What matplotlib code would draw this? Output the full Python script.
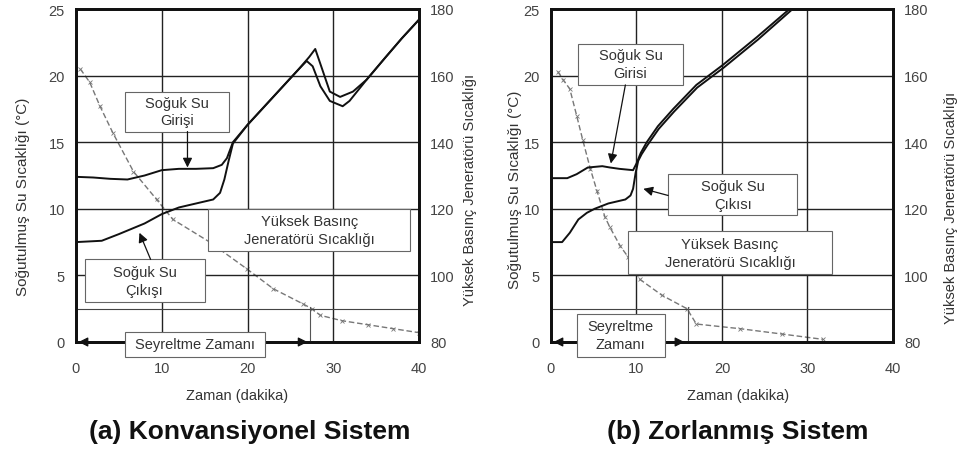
import matplotlib.pyplot as plt
from matplotlib.patches import Rectangle

plt.rcParams["font.family"] = ["Liberation Sans", "DejaVu Sans"]

# (a) Konvansiyonel Sistem
a_in_t = [0, 2, 4, 6, 8, 10, 12, 14, 16, 17, 17.6, 18.3, 20, 22, 24, 26, 26.9, 27.6, 28.5, 29.6, 31.1, 31.9, 33.9, 36, 38, 40]
a_in_v = [12.4, 12.35, 12.25, 12.2, 12.5, 12.9, 13.0, 13.0, 13.05, 13.3, 13.8, 15.0, 16.3, 17.7, 19.1, 20.5, 21.1, 20.7, 19.2, 18.1, 17.7, 18.1, 19.7, 21.3, 22.8, 24.2]
a_out_t = [0, 3, 5, 8, 10, 12, 14, 16, 16.8, 17.3, 17.8, 18.3, 20, 22, 24, 26, 27.2, 27.9, 28.7, 29.6, 30.8, 32.3, 33.9, 36, 38, 40]
a_out_v = [7.5, 7.6, 8.1, 8.9, 9.6, 10.1, 10.4, 10.7, 11.2, 12.2, 13.6, 14.9, 16.3, 17.7, 19.1, 20.5, 21.4, 22.0, 20.5, 18.8, 18.4, 18.8, 19.7, 21.3, 22.8, 24.2]
a_gen_t = [0.5, 1.6, 2.8, 4.3, 6.7, 9.4, 11.3, 15.6, 19.9, 23, 26.5, 27.5, 28.5, 31, 34, 37, 40]
a_gen_c = [162, 158, 150.8, 142.8, 131.2, 122.8, 116.8, 110, 102, 96, 91.4, 90, 88, 86.4, 85.2, 84, 82.8]

# (b) Zorlanmis Sistem
b_in_t = [0, 1.9, 3, 4.3, 6, 6.9, 8, 9.6, 10, 10.5, 11.2, 12.5, 14.3, 17, 20.1, 24.1, 27.9]
b_in_v = [12.3, 12.3, 12.6, 13.1, 13.2, 13.1, 13.0, 12.9, 13.4, 14.2, 15.0, 16.2, 17.5, 19.3, 20.8, 22.9, 25.0]
b_out_t = [0, 1.3, 2.2, 3.2, 4.2, 5.1, 6.7, 8.7, 9.3, 9.6, 9.9, 10.2, 10.6, 11.3, 12.6, 14.4, 17.1, 20.2, 24.2, 28.0]
b_out_v = [7.5, 7.5, 8.2, 9.2, 9.7, 10.0, 10.4, 10.7, 11.0, 11.5, 12.7, 13.6, 14.1, 14.8, 16.0, 17.3, 19.1, 20.6, 22.7, 24.85]
b_gen_t = [0.8, 1.4, 2.2, 3.0, 3.7, 4.6, 5.4, 6.3, 6.9, 8.1, 9.0, 10.4, 13, 15.9, 17, 22.1, 27, 31.8]
b_gen_c = [161.2, 158.8, 156, 148, 140.8, 132, 125.2, 117.6, 114.4, 108.8, 105.6, 98.8, 94, 90, 85.4, 84, 82.4, 80.8]

x_ticks = [0, 10, 20, 30, 40]
y_ticks = [0, 5, 10, 15, 20, 25]
r_ticks = [80, 100, 120, 140, 160, 180]

fig = plt.figure(figsize=(9.62, 4.52), dpi=100)
ax_a = fig.add_axes([76 / 962, 1 - 343 / 452, 343 / 962, 333 / 452])
ax_b = fig.add_axes([551 / 962, 1 - 343 / 452, 342 / 962, 333 / 452])

TXT = "#333333"


def box(ax, x0, y0, x1, y1, text, size=10.5):
    ax.add_patch(Rectangle((x0, y0), x1 - x0, y1 - y0, facecolor="white",
                           edgecolor="#666666", lw=0.8, zorder=3, clip_on=False))
    ax.text((x0 + x1) / 2, (y0 + y1) / 2, text, ha="center", va="center",
            fontsize=size, color=TXT, zorder=6, linespacing=1.35)


def arrow(ax, xy, xytext, style="-|>", z=7):
    ax.annotate("", xy=xy, xytext=xytext, zorder=z, annotation_clip=False,
                arrowprops=dict(arrowstyle=style, color="#111111", lw=0.9,
                                mutation_scale=14, shrinkA=0, shrinkB=0))


def setup(ax, gen_t, gen_c, dil_end):
    tw = ax.twinx()
    ax.set_zorder(tw.get_zorder() + 1)
    ax.patch.set_visible(False)
    tw.plot(gen_t, gen_c, color="#777777", lw=1.0, ls=(0, (4, 2)),
            marker="x", markersize=2.5, markeredgewidth=0.6)
    tw.set_ylim(80, 180)
    tw.set_yticks(r_ticks)
    tw.tick_params(length=0, pad=8, labelsize=10.5, labelcolor="#444444")
    ax.set_xlim(0, 40)
    ax.set_ylim(0, 25)
    ax.set_xticks(x_ticks)
    ax.set_yticks(y_ticks)
    ax.tick_params(length=0, labelsize=10.5, labelcolor="#444444")
    ax.tick_params(axis="x", pad=14)
    ax.tick_params(axis="y", pad=8)
    ax.set_axisbelow(True)
    ax.grid(color="#222222", lw=1.0)
    ax.axhline(2.5, color="#444444", lw=0.8, zorder=0.6)
    ax.plot([dil_end, dil_end], [0, 2.6], color="#555555", lw=0.8, zorder=0.7)
    for a in (ax, tw):
        for s in a.spines.values():
            s.set_linewidth(2.0)
            s.set_color("#111111")
    return tw


tw_a = setup(ax_a, a_gen_t, a_gen_c, 27.3)
tw_b = setup(ax_b, b_gen_t, b_gen_c, 16.0)

ax_a.plot(a_in_t, a_in_v, color="#111111", lw=1.4, zorder=4)
ax_a.plot(a_out_t, a_out_v, color="#111111", lw=1.4, zorder=4)
ax_b.plot(b_in_t, b_in_v, color="#111111", lw=1.4, zorder=4)
ax_b.plot(b_out_t, b_out_v, color="#111111", lw=1.4, zorder=4)

# annotation boxes (a)
box(ax_a, 5.7, 15.8, 17.9, 18.8, "Soğuk Su\nGirişi")
box(ax_a, 15.4, 6.8, 39.0, 10.0, "Yüksek Basınç\nJeneratörü Sıcaklığı")
box(ax_a, 1.0, 3.0, 15.0, 6.2, "Soğuk Su\nÇıkışı")
arrow(ax_a, (0.3, 0), (27.0, 0), "<|-|>", z=2.5)
box(ax_a, 5.7, -1.1, 22.0, 0.75, "Seyreltme Zamanı")
arrow(ax_a, (13.0, 13.1), (13.0, 15.8))
arrow(ax_a, (7.4, 8.2), (8.7, 6.2))

# annotation boxes (b)
box(ax_b, 3.2, 19.3, 15.4, 22.4, "Soğuk Su\nGirisi")
box(ax_b, 13.7, 9.5, 28.8, 12.6, "Soğuk Su\nÇıkısı")
box(ax_b, 9.0, 5.1, 32.9, 8.3, "Yüksek Basınç\nJeneratörü Sıcaklığı")
arrow(ax_b, (0.3, 0), (15.6, 0), "<|-|>", z=2.5)
box(ax_b, 3.0, -1.1, 13.3, 2.1, "Seyreltme\nZamanı")
arrow(ax_b, (7.0, 13.4), (8.7, 19.3))
arrow(ax_b, (10.8, 11.5), (13.7, 11.0))

for ax, tw, ylx, yly, ry, rx, xlx, title, tx in [
    (ax_a, tw_a, -0.134, 0.44, 0.46, 1.128, 0.47, "(a) Konvansiyonel Sistem", 250),
    (ax_b, tw_b, -0.085, 0.46, 0.405, 1.150, 0.547, "(b) Zorlanmış Sistem", 738),
]:
    ax.set_ylabel("Soğutulmuş Su Sıcaklığı (°C)", fontsize=11, color=TXT)
    ax.yaxis.set_label_coords(ylx, yly)
    tw.set_ylabel("Yüksek Basınç Jeneratörü Sıcaklığı", fontsize=10.5, color=TXT)
    tw.yaxis.set_label_coords(rx, ry)
    ax.set_xlabel("Zaman (dakika)", fontsize=10.5, color=TXT)
    ax.xaxis.set_label_coords(xlx, -0.138)
    fig.text(tx / 962, 1 - 432 / 452, title, ha="center", va="center",
             fontsize=19, fontweight="bold", color="#111111")

fig.savefig("out.png", dpi=100, facecolor="white")
